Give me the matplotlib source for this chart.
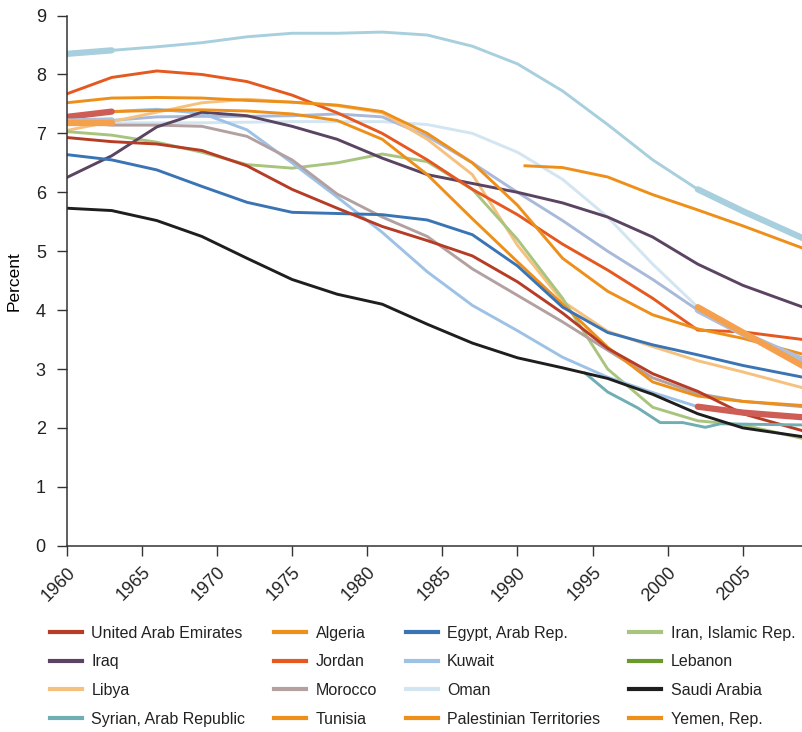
import matplotlib
matplotlib.use('Agg')
import matplotlib.pyplot as plt
from matplotlib.lines import Line2D

# global style
plt.rcParams['font.family'] = ['Liberation Sans', 'DejaVu Sans']
plt.rcParams['text.color'] = '#222222'

# data (3-year steps, last point at the right edge)
years = [1960, 1963, 1966, 1969, 1972, 1975, 1978, 1981, 1984, 1987,
         1990, 1993, 1996, 1999, 2002, 2005, 2009]

uae = [6.93, 6.86, 6.82, 6.71, 6.45, 6.05, 5.73, 5.42, 5.18, 4.92,
       4.48, 3.95, 3.35, 2.92, 2.62, 2.24, 1.95]
algeria = [7.52, 7.60, 7.61, 7.60, 7.56, 7.53, 7.48, 7.37, 7.00, 6.50,
           5.78, 4.88, 4.32, 3.92, 3.68, 3.52, 3.25]
egypt = [6.64, 6.55, 6.38, 6.10, 5.83, 5.66, 5.64, 5.62, 5.53, 5.28,
         4.75, 4.05, 3.62, 3.41, 3.24, 3.06, 2.86]
iran = [7.03, 6.97, 6.85, 6.68, 6.47, 6.41, 6.50, 6.65, 6.52, 6.05,
        5.20, 4.20, 3.00, 2.35, 2.12, 2.05, 1.82]
iraq = [6.25, 6.62, 7.11, 7.36, 7.30, 7.12, 6.90, 6.58, 6.30, 6.15,
        6.00, 5.82, 5.58, 5.24, 4.78, 4.42, 4.05]
jordan = [7.67, 7.95, 8.06, 8.00, 7.88, 7.65, 7.35, 7.00, 6.55, 6.05,
          5.62, 5.12, 4.68, 4.20, 3.66, 3.63, 3.50]
kuwait = [7.28, 7.37, 7.41, 7.34, 7.06, 6.50, 5.92, 5.32, 4.65, 4.08,
          3.65, 3.20, 2.86, 2.60, 2.36, 2.26, 2.18]
libya = [7.05, 7.20, 7.36, 7.52, 7.58, 7.53, 7.47, 7.35, 6.90, 6.30,
         5.10, 4.15, 3.64, 3.38, 3.14, 2.95, 2.68]
morocco = [7.20, 7.14, 7.14, 7.12, 6.95, 6.55, 5.97, 5.58, 5.25, 4.70,
           4.25, 3.80, 3.32, 2.85, 2.58, 2.45, 2.36]
oman = [7.18, 7.18, 7.18, 7.18, 7.19, 7.20, 7.20, 7.20, 7.15, 7.00,
        6.68, 6.22, 5.58, 4.78, 4.05, 3.62, 3.05]
saudi = [5.73, 5.69, 5.52, 5.25, 4.88, 4.52, 4.27, 4.10, 3.76, 3.44,
         3.19, 3.02, 2.84, 2.57, 2.24, 2.00, 1.85]
tunisia = [7.30, 7.37, 7.39, 7.40, 7.38, 7.33, 7.22, 6.90, 6.30, 5.55,
           4.82, 4.10, 3.37, 2.78, 2.54, 2.45, 2.38]
top_line = [8.35, 8.41, 8.47, 8.54, 8.64, 8.70, 8.70, 8.72, 8.67, 8.48,
            8.18, 7.72, 7.15, 6.55, 6.05, 5.68, 5.22]
steel_line = [7.20, 7.22, 7.28, 7.29, 7.29, 7.30, 7.33, 7.28, 6.95, 6.50,
              6.00, 5.52, 5.00, 4.52, 4.00, 3.60, 3.15]

pal_years = [1990.5, 1993, 1996, 1999, 2002, 2005, 2009]
palestine = [6.45, 6.42, 6.26, 5.96, 5.70, 5.43, 5.05]

syria_years = [1994.5, 1996, 1998, 1999.5, 2001, 2002.5, 2003.5, 2006, 2009]
syria = [2.93, 2.61, 2.34, 2.09, 2.09, 2.01, 2.07, 2.06, 2.05]

colors = {
    'United Arab Emirates': '#b63c26',
    'Algeria': '#ee8f1a',
    'Egypt, Arab Rep.': '#3a74b5',
    'Iran, Islamic Rep.': '#a9c47f',
    'Iraq': '#5b4461',
    'Jordan': '#e5581f',
    'Kuwait': '#9ec1e6',
    'Lebanon': '#6a9a2a',
    'Libya': '#f6c17f',
    'Morocco': '#b3a1a1',
    'Oman': '#d2e5f1',
    'Saudi Arabia': '#1e1e1e',
    'Syrian, Arab Republic': '#70aeb3',
    'Tunisia': '#ee8f1a',
    'Palestinian Territories': '#ee8f1a',
    'Yemen, Rep.': '#ee8f1a',
}

fig = plt.figure(figsize=(8.03, 7.32), dpi=100)
ax = fig.add_axes([0.083, 0.2545, 0.917, 0.7242])

lw = 2.1
ax.plot(years, oman, color=colors['Oman'], lw=lw)
ax.plot(years, top_line, color='#a8cfdd', lw=lw)
ax.plot(years, steel_line, color='#a8b9d9', lw=lw)
ax.plot(years, libya, color=colors['Libya'], lw=lw)
ax.plot(years, iran, color=colors['Iran, Islamic Rep.'], lw=lw)
ax.plot(years, kuwait, color=colors['Kuwait'], lw=lw)
ax.plot(years, morocco, color=colors['Morocco'], lw=lw)
ax.plot(years, iraq, color=colors['Iraq'], lw=lw)
ax.plot(years, jordan, color=colors['Jordan'], lw=lw)
ax.plot(years, algeria, color=colors['Algeria'], lw=lw)
ax.plot(years, tunisia, color=colors['Tunisia'], lw=lw)
ax.plot(pal_years, palestine, color=colors['Palestinian Territories'], lw=lw)
ax.plot(years, egypt, color=colors['Egypt, Arab Rep.'], lw=lw)
ax.plot(years, uae, color=colors['United Arab Emirates'], lw=lw)
ax.plot(syria_years, syria, color=colors['Syrian, Arab Republic'], lw=lw)
ax.plot(years, saudi, color=colors['Saudi Arabia'], lw=lw)

# thick highlighted ends
highlights = [(top_line, '#a8cfdd'), (kuwait, '#cd5d55'),
              (steel_line, '#aebfdc'), (oman, '#f5a04c')]
for vals, c in highlights:
    head = [(y, v) for y, v in zip(years, vals) if y <= 1963]
    tail = [(y, v) for y, v in zip(years, vals) if y >= 2002]
    for seg in (head, tail):
        ax.plot([s[0] for s in seg], [s[1] for s in seg], color=c, lw=4.5,
                solid_capstyle='round')

ax.set_xlim(1960, 2009)
ax.set_ylim(0, 9)
ax.set_xticks(range(1960, 2006, 5))
ax.set_yticks(range(0, 10))
ax.set_xticklabels([str(y) for y in range(1960, 2006, 5)], rotation=45,
                   ha='right', va='top', rotation_mode='anchor')
ax.tick_params(axis='both', direction='out', length=7, width=1,
               color='#333333', labelsize=13, labelcolor='#222222')
ax.tick_params(axis='y', pad=8)
ax.tick_params(axis='x', pad=6)
for s in ['top', 'right']:
    ax.spines[s].set_visible(False)
for s in ['left', 'bottom']:
    ax.spines[s].set_color('#333333')
    ax.spines[s].set_linewidth(1.1)

ax.set_ylabel('Percent', fontsize=12.5)
ax.yaxis.set_label_coords(-0.061, 0.5)

# legend, row-major order as in the source
rows = [['United Arab Emirates', 'Algeria', 'Egypt, Arab Rep.', 'Iran, Islamic Rep.'],
        ['Iraq', 'Jordan', 'Kuwait', 'Lebanon'],
        ['Libya', 'Morocco', 'Oman', 'Saudi Arabia'],
        ['Syrian, Arab Republic', 'Tunisia', 'Palestinian Territories', 'Yemen, Rep.']]
order = [rows[r][c] for c in range(4) for r in range(4)]
handles = [Line2D([], [], color=colors[n], lw=3) for n in order]
fig.legend(handles, order, loc='upper left', bbox_to_anchor=(0.062, 0.145),
           ncol=4, frameon=False, fontsize=11.5, handlelength=2.0,
           handletextpad=0.6, columnspacing=1.8, labelspacing=0.85,
           borderpad=0, borderaxespad=0)

fig.savefig('out.png', dpi=100)
